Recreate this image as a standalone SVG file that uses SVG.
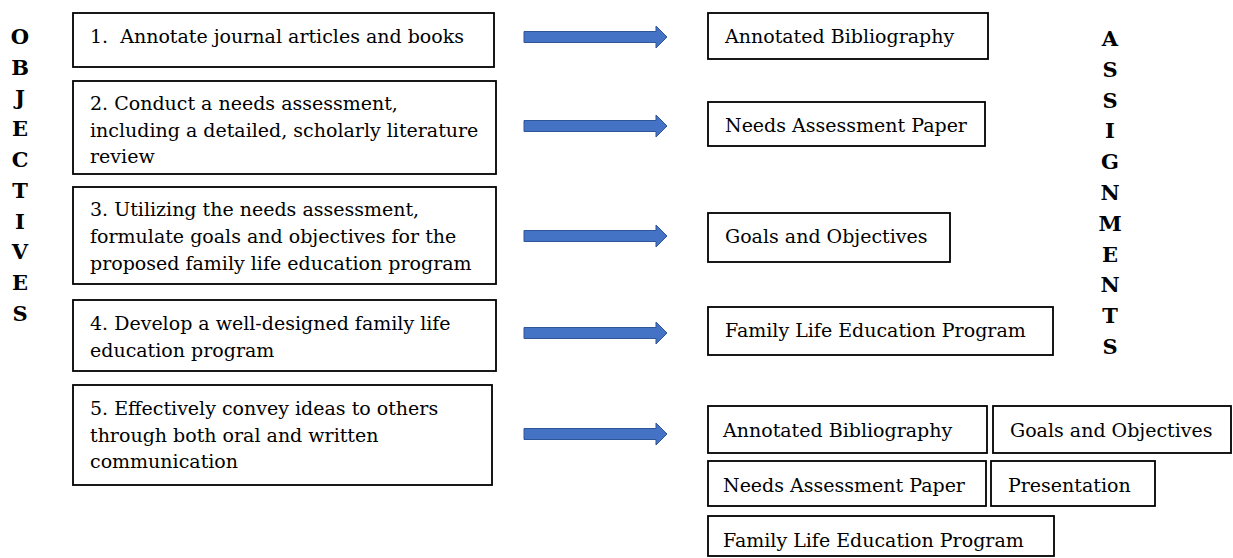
<svg xmlns="http://www.w3.org/2000/svg" xmlns:xlink="http://www.w3.org/1999/xlink" width="1233" height="558" viewBox="0 0 1233 558">
<style>
  .box { fill: #ffffff; stroke: #000000; stroke-width: 1.8; }
  .t { font-family: "DejaVu Serif", "Liberation Serif", serif; font-size: 19px; fill: #000000; }
  .v { font-family: "DejaVu Serif", "Liberation Serif", serif; font-size: 21px; font-weight: bold; fill: #000000; text-anchor: middle; }
  .arr { fill: #4472C4; stroke: #2F5597; stroke-width: 1; }
</style>
<defs>
  <path id="arrow" class="arr" d="M0,-5.5 H132 V-11 L143,0 L132,11 V5.5 H0 Z"/>
</defs>
<rect width="1233" height="558" fill="#ffffff"/>

<g id="label-objectives">
  <text class="v" x="20" y="44">O</text>
  <text class="v" x="20" y="75">B</text>
  <text class="v" x="20" y="105">J</text>
  <text class="v" x="20" y="136">E</text>
  <text class="v" x="20" y="167">C</text>
  <text class="v" x="20" y="198">T</text>
  <text class="v" x="20" y="229">I</text>
  <text class="v" x="20" y="259">V</text>
  <text class="v" x="20" y="290">E</text>
  <text class="v" x="20" y="321">S</text>
</g>

<g id="label-assignments">
  <text class="v" x="1110" y="46">A</text>
  <text class="v" x="1110" y="77">S</text>
  <text class="v" x="1110" y="108">S</text>
  <text class="v" x="1110" y="138">I</text>
  <text class="v" x="1110" y="169">G</text>
  <text class="v" x="1110" y="200">N</text>
  <text class="v" x="1110" y="231">M</text>
  <text class="v" x="1110" y="262">E</text>
  <text class="v" x="1110" y="292">N</text>
  <text class="v" x="1110" y="323">T</text>
  <text class="v" x="1110" y="354">S</text>
</g>

<g id="obj1">
  <rect class="box" x="73" y="13" width="421" height="54"/>
  <text class="t" x="90" y="43" xml:space="preserve">1.  Annotate journal articles and books</text>
</g>
<g id="obj2">
  <rect class="box" x="73" y="81" width="423" height="93"/>
  <text class="t" x="90" y="110">2. Conduct a needs assessment,</text>
  <text class="t" x="90" y="137">including a detailed, scholarly literature</text>
  <text class="t" x="90" y="163">review</text>
</g>
<g id="obj3">
  <rect class="box" x="73" y="187" width="423" height="97"/>
  <text class="t" x="90" y="216">3. Utilizing the needs assessment,</text>
  <text class="t" x="90" y="243">formulate goals and objectives for the</text>
  <text class="t" x="90" y="270">proposed family life education program</text>
</g>
<g id="obj4">
  <rect class="box" x="73" y="300" width="423" height="71"/>
  <text class="t" x="90" y="330">4. Develop a well-designed family life</text>
  <text class="t" x="90" y="357">education program</text>
</g>
<g id="obj5">
  <rect class="box" x="73" y="385" width="419" height="100"/>
  <text class="t" x="90" y="415">5. Effectively convey ideas to others</text>
  <text class="t" x="90" y="442">through both oral and written</text>
  <text class="t" x="90" y="468">communication</text>
</g>

<g id="connectors">
  <use xlink:href="#arrow" x="524" y="37"/>
  <use xlink:href="#arrow" x="524" y="126"/>
  <use xlink:href="#arrow" x="524" y="236"/>
  <use xlink:href="#arrow" x="524" y="333"/>
  <use xlink:href="#arrow" x="524" y="434"/>
</g>

<g id="asg1">
  <rect class="box" x="708" y="13" width="280" height="46"/>
  <text class="t" x="725" y="43">Annotated Bibliography</text>
</g>
<g id="asg2">
  <rect class="box" x="708" y="102" width="277" height="44"/>
  <text class="t" x="725" y="132">Needs Assessment Paper</text>
</g>
<g id="asg3">
  <rect class="box" x="708" y="213" width="242" height="49"/>
  <text class="t" x="725" y="243">Goals and Objectives</text>
</g>
<g id="asg4">
  <rect class="box" x="708" y="307" width="345" height="48"/>
  <text class="t" x="725" y="337">Family Life Education Program</text>
</g>
<g id="asg5-annotated">
  <rect class="box" x="708" y="406" width="279" height="47"/>
  <text class="t" x="723" y="437">Annotated Bibliography</text>
</g>
<g id="asg5-goals">
  <rect class="box" x="993" y="406" width="238" height="47"/>
  <text class="t" x="1010" y="437">Goals and Objectives</text>
</g>
<g id="asg5-needs">
  <rect class="box" x="708" y="461" width="278" height="45"/>
  <text class="t" x="723" y="492">Needs Assessment Paper</text>
</g>
<g id="asg5-presentation">
  <rect class="box" x="991" y="461" width="164" height="45"/>
  <text class="t" x="1008" y="492">Presentation</text>
</g>
<g id="asg5-family">
  <rect class="box" x="708" y="516" width="346" height="40"/>
  <text class="t" x="723" y="547">Family Life Education Program</text>
</g>
</svg>
